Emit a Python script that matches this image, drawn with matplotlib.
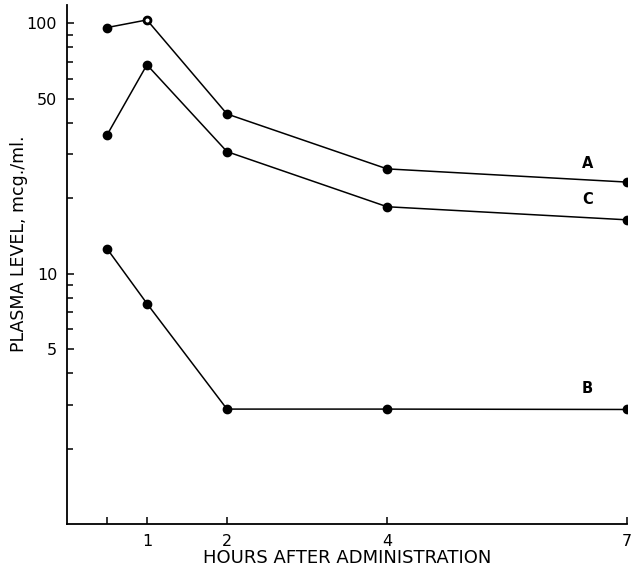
import matplotlib.pyplot as plt
from matplotlib.ticker import FixedLocator, FixedFormatter, LogLocator, NullFormatter

# horas apos administracao
horas = [0.5, 1, 2, 4, 7]

# niveis plasmaticos (mcg/ml)
curva_a = [96, 103, 43.4, 26.2, 23.2]
curva_c = [35.7, 68.2, 30.7, 18.5, 16.4]
curva_b = [12.6, 7.6, 2.88, 2.88, 2.87]

xticks = [0.5, 1, 2, 4, 7]
xtick_labels = ['', '1', '2', '4', '7']
yticks = [5, 10, 50, 100]
ytick_labels = ['5', '10', '50', '100']

fig = plt.figure(figsize=(6.31, 5.71), dpi=100)
ax = fig.add_axes([0.106, 0.082, 0.888, 0.909])

ax.plot(horas, curva_a, color='black', lw=1.1, marker='o', ms=6)
ax.plot(horas[1], curva_a[1], marker='o', ms=4.5, mfc='white', mec='black', mew=1.6)
ax.plot(horas, curva_c, color='black', lw=1.1, marker='o', ms=6)
ax.plot(horas, curva_b, color='black', lw=1.1, marker='o', ms=6)

ax.set_yscale('log')
ax.set_xlim(0, 7)
ax.set_ylim(1, 118)

ax.xaxis.set_major_locator(FixedLocator(xticks))
ax.xaxis.set_major_formatter(FixedFormatter(xtick_labels))
ax.yaxis.set_major_locator(FixedLocator(yticks))
ax.yaxis.set_major_formatter(FixedFormatter(ytick_labels))
ax.yaxis.set_minor_locator(LogLocator(base=10, subs=range(2, 10)))
ax.yaxis.set_minor_formatter(NullFormatter())

ax.tick_params(which='both', direction='in', labelsize=11.5, width=1.1)
ax.tick_params(which='major', length=5, pad=7)
ax.tick_params(which='minor', length=4)

for lado in ['top', 'right']:
    ax.spines[lado].set_visible(False)
for lado in ['left', 'bottom']:
    ax.spines[lado].set_linewidth(1.3)

ax.text(6.5, 25.8, 'A', fontsize=10.5, fontweight='bold', ha='center', va='bottom')
ax.text(6.5, 18.4, 'C', fontsize=10.5, fontweight='bold', ha='center', va='bottom')
ax.text(6.5, 3.25, 'B', fontsize=10.5, fontweight='bold', ha='center', va='bottom')

ax.set_xlabel('HOURS AFTER ADMINISTRATION', fontsize=13, labelpad=0)
ax.set_ylabel('PLASMA LEVEL, mcg./ml.', fontsize=12.5)
ax.yaxis.set_label_coords(-0.07, 0.54)

fig.savefig('out.png', dpi=100)
